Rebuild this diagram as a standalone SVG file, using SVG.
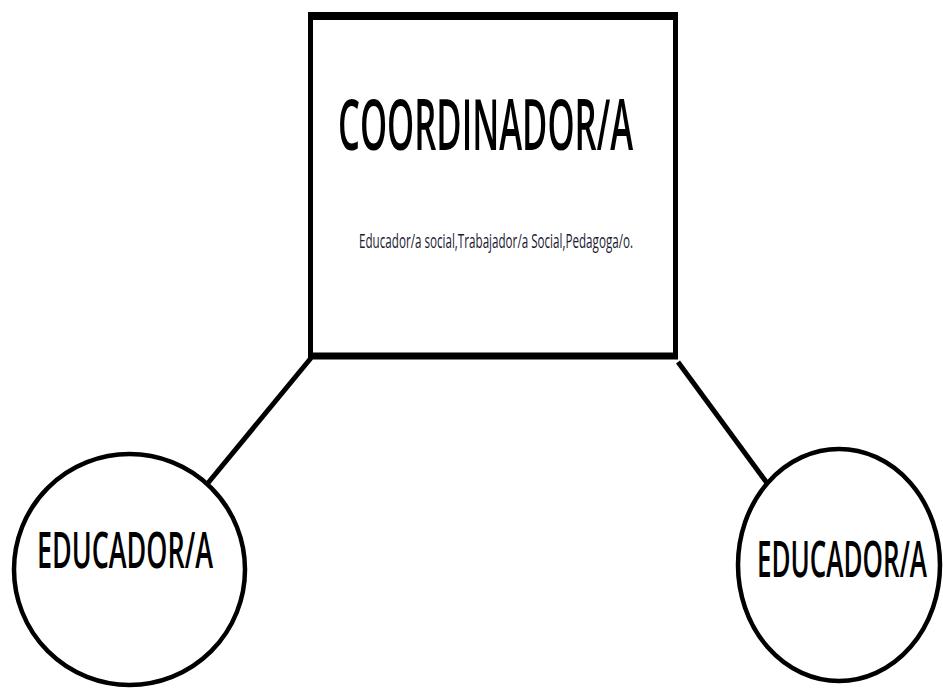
<svg xmlns="http://www.w3.org/2000/svg" width="943" height="688" viewBox="0 0 943 688">
<style>
.shape{fill:#fff;stroke:#000;}
.edge{stroke:#000;stroke-width:5;fill:none;}
.title{font-family:"Open Sans","Liberation Sans",sans-serif;font-weight:600;fill:#000;}
.sub{font-family:"Open Sans","Liberation Sans",sans-serif;fill:#1a1a33;}
</style>
<rect x="0" y="0" width="943" height="688" fill="#fff"/>
<g id="connectors">
<line class="edge" x1="311" y1="358" x2="208" y2="483"/>
<line class="edge" x1="678" y1="362" x2="767" y2="483"/>
</g>
<g id="coordinador">
<rect class="shape" x="310.5" y="16" width="365" height="340" stroke-width="5"/>
<line x1="308" y1="16" x2="678" y2="16" stroke="#000" stroke-width="8"/>
<line x1="308" y1="356" x2="678" y2="356" stroke="#000" stroke-width="7"/>
<text class="title" x="338" y="150" font-size="70" textLength="295" lengthAdjust="spacingAndGlyphs">COORDINADOR/A</text>
<text class="sub" x="359" y="248" font-size="20.5" textLength="274" lengthAdjust="spacingAndGlyphs">Educador/a social,Trabajador/a Social,Pedagoga/o.</text>
</g>
<g id="educador-left">
<circle class="shape" cx="129.5" cy="569.5" r="115.5" stroke-width="4.5"/>
<text class="title" x="37" y="568" font-size="50" textLength="176" lengthAdjust="spacingAndGlyphs">EDUCADOR/A</text>
</g>
<g id="educador-right">
<ellipse class="shape" cx="839" cy="565" rx="101" ry="116" stroke-width="4.5"/>
<text class="title" x="757" y="577" font-size="50" textLength="170" lengthAdjust="spacingAndGlyphs">EDUCADOR/A</text>
</g>
</svg>
